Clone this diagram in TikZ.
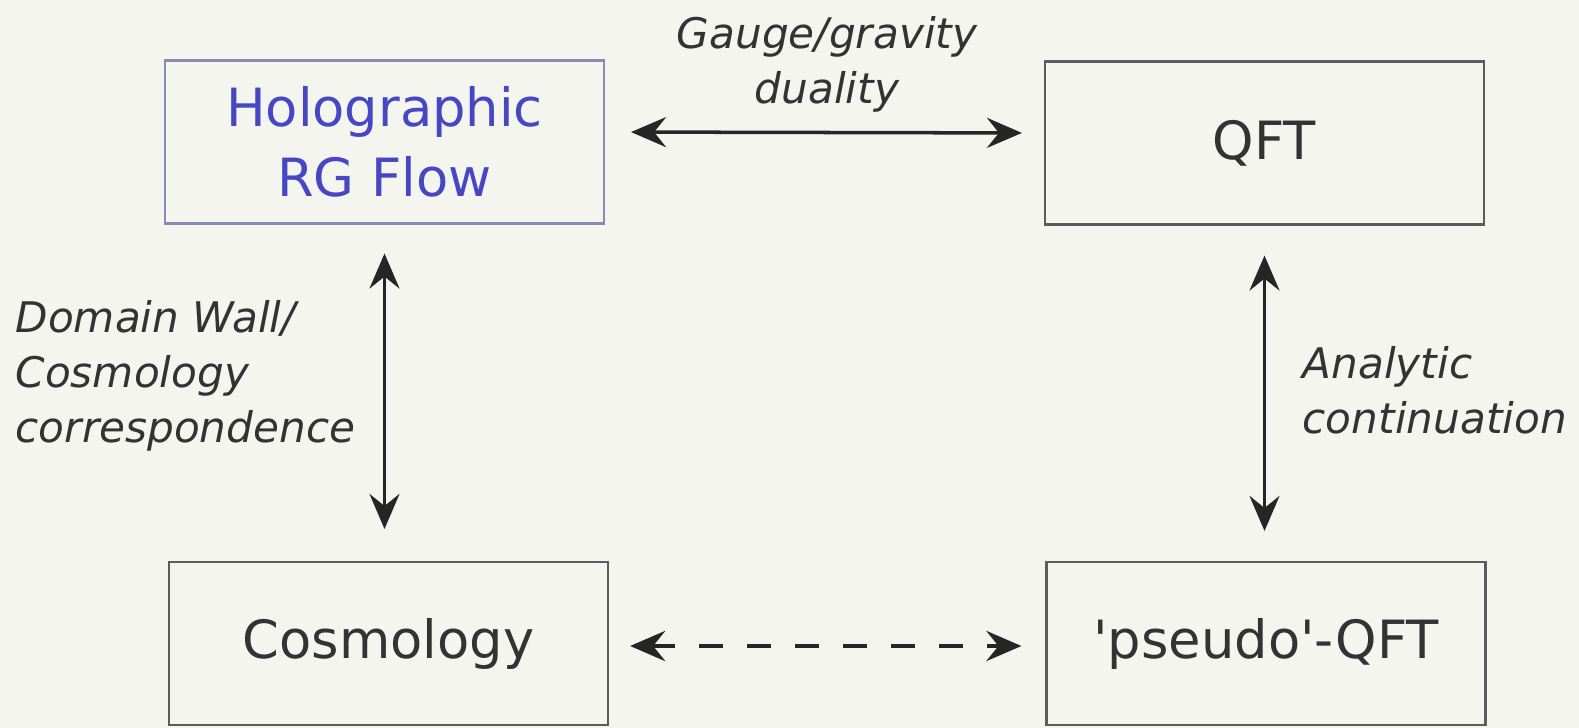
\documentclass[tikz,border=0pt]{standalone}
\usepackage{fontspec}
\setmainfont{DejaVu Sans}
\newfontfamily\boxfont{DejaVu Sans}
\usetikzlibrary{arrows.meta, calc}
\definecolor{bgpaper}{HTML}{F4F5EF}
\definecolor{inkgrey}{HTML}{333333}
\definecolor{holoblue}{HTML}{4747C4}
\definecolor{holoframe}{HTML}{8A8AB8}
\begin{document}
\begin{tikzpicture}[
                box/.style={draw=inkgrey!80, line width=0.6pt, minimum width=4.39cm, minimum height=1.63cm,
                    align=center, text=inkgrey, font=\boxfont\fontsize{15}{20}\selectfont},
                lbl/.style={text=inkgrey, font=\fontsize{12}{15.6}\selectfont\itshape, inner sep=0pt},
                dbl/.style={line width=1pt, draw=black!85, {Stealth[length=3.5mm, width=3mm, inset=1.2mm]}-{Stealth[length=3.5mm, width=3mm, inset=1.2mm]}}
            ]
                \fill[bgpaper] (0,0) rectangle (15.79,-7.28);
                \useasboundingbox (0,0) rectangle (15.79,-7.28);
                \node[box, draw=holoframe, text=holoblue] (holo) at (3.845,-1.42) {Holographic\\RG Flow};
                \node[box] (qft) at (12.645,-1.43) {QFT};
                \node[box] (cosmo) at (3.885,-6.435) {Cosmology};
                \node[box] (pseudo) at (12.66,-6.435) {'pseudo'-QFT};
                \draw[dbl, shorten <=2.6mm, shorten >=2.2mm] ([yshift=1mm]holo.east) -- ([yshift=1mm]qft.west);
                \draw[dbl, dash pattern=on 2.4mm off 2.4mm, line width=1.4pt, shorten <=2.1mm, shorten >=2.4mm] ([yshift=-0.25mm]cosmo.east) -- ([yshift=-0.25mm]pseudo.west);
                \draw[dbl, shorten <=2.9mm, shorten >=3.2mm] (holo.south) -- (holo.south |- cosmo.north);
                \draw[dbl, shorten <=3mm, shorten >=3mm] (qft.south) -- (qft.south |- pseudo.north);
                \node[lbl, align=center, anchor=north] (gauge) at (8.27,-0.16) {Gauge/gravity\\duality};
                \node[lbl, align=left, anchor=north west] (dwall) at (0.15,-3.0) {Domain Wall/\\Cosmology\\correspondence};
                \node[lbl, align=left, anchor=north west] (anal) at (13.02,-3.46) {Analytic\\continuation};
            \end{tikzpicture}
\end{document}
